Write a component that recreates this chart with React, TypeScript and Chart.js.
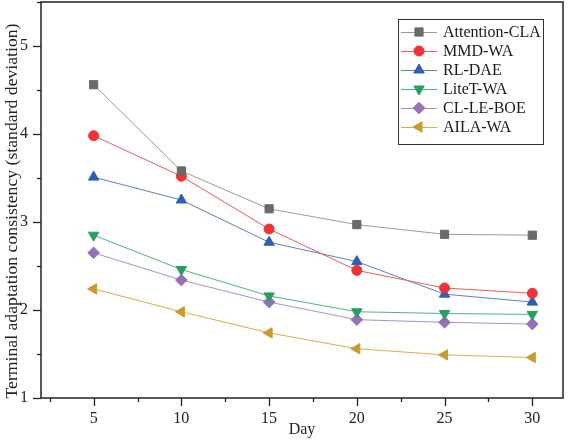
import React, { useEffect, useRef } from "react";
import { Chart, registerables } from "chart.js";

Chart.register(...registerables);

const days = [5, 10, 15, 20, 25, 30];
const attentionCLA = [4.56, 3.58, 3.15, 2.97, 2.86, 2.85];
const mmdWA = [3.98, 3.52, 2.92, 2.45, 2.25, 2.19];
const rlDAE = [3.51, 3.25, 2.77, 2.55, 2.18, 2.09];
const liteTWA = [2.85, 2.46, 2.16, 1.98, 1.96, 1.95];
const clLEBOE = [2.65, 2.34, 2.09, 1.89, 1.86, 1.84];
const ailaWA = [2.24, 1.98, 1.74, 1.56, 1.49, 1.46];

const xTicks = [5, 10, 15, 20, 25, 30];
const yTicks = [1, 2, 3, 4, 5];

const seriesNames = ["Attention-CLA", "MMD-WA", "RL-DAE", "LiteT-WA", "CL-LE-BOE", "AILA-WA"];
const seriesValues = [attentionCLA, mmdWA, rlDAE, liteTWA, clLEBOE, ailaWA];
const markerColors = ["#6a6a6a", "#ee3336", "#2e5fb2", "#2a9e63", "#9671b9", "#cc9a2a"];
const lineColors = ["#9a9a9a", "#f05a5c", "#5b7fc2", "#4fb283", "#a88fca", "#d8ae4e"];
const pointStyles = ["rect", "circle", "triangle", "triangle", "rectRot", "triangle"];
const rotations = [0, 0, 0, 180, 0, 270];
const radii = [5.8, 5, 6, 6, 5.8, 6];

const yTitle = "Terminal adaptation consistency (standard deviation)";
const xTitle = "Day";
const FONT = "'Liberation Serif', 'Times New Roman', serif";

function drawMarker(ctx: CanvasRenderingContext2D, style: string, rot: number, r: number, x: number, y: number) {
  ctx.save();
  ctx.translate(x, y);
  ctx.rotate((rot * Math.PI) / 180);
  ctx.beginPath();
  if (style === "rect") {
    const s = r * Math.SQRT1_2;
    ctx.rect(-s, -s, 2 * s, 2 * s);
  } else if (style === "circle") {
    ctx.arc(0, 0, r, 0, Math.PI * 2);
  } else if (style === "rectRot") {
    ctx.moveTo(0, -r);
    ctx.lineTo(r, 0);
    ctx.lineTo(0, r);
    ctx.lineTo(-r, 0);
    ctx.closePath();
  } else {
    const h = (r * 3) / Math.sqrt(3);
    const half = h / 2;
    ctx.moveTo(0, -r);
    ctx.lineTo(half, r / 2);
    ctx.lineTo(-half, r / 2);
    ctx.closePath();
  }
  ctx.fill();
  ctx.stroke();
  ctx.restore();
}

const decorPlugin = {
  id: "decor",
  afterDraw(chart: any) {
    const ctx = chart.ctx;
    const area = chart.chartArea;
    const xs = chart.scales.x;
    const ys = chart.scales.y;
    ctx.save();
    ctx.strokeStyle = "#222";
    ctx.lineWidth = 1.5;
    ctx.strokeRect(area.left, area.top, area.right - area.left, area.bottom - area.top);
    ctx.lineWidth = 1.3;
    for (let v = 1; v <= 5.5001; v += 0.5) {
      const py = Math.round(ys.getPixelForValue(v)) + 0.5;
      const major = Math.abs(v - Math.round(v)) < 1e-6;
      ctx.beginPath();
      ctx.moveTo(area.left - (major ? 8 : 4), py);
      ctx.lineTo(area.left, py);
      ctx.stroke();
    }
    for (let v = 2.5; v <= 30.001; v += 2.5) {
      const px = Math.round(xs.getPixelForValue(v)) + 0.5;
      const major = Math.abs(v / 5 - Math.round(v / 5)) < 1e-6;
      ctx.beginPath();
      ctx.moveTo(px, area.bottom);
      ctx.lineTo(px, area.bottom + (major ? 8 : 4));
      ctx.stroke();
    }
    ctx.fillStyle = "#222";
    ctx.textAlign = "center";
    ctx.textBaseline = "middle";
    ctx.font = `16px ${FONT}`;
    ctx.fillText(xTitle, (area.left + area.right) / 2, 430);
    ctx.save();
    ctx.translate(12, 211);
    ctx.rotate(-Math.PI / 2);
    ctx.font = `17.7px ${FONT}`;
    ctx.fillText(yTitle, 0, 0);
    ctx.restore();
    const lx = 398, ly = 19, lw = 145, lh = 125;
    ctx.fillStyle = "#fff";
    ctx.fillRect(lx, ly, lw, lh);
    ctx.strokeStyle = "#333";
    ctx.lineWidth = 1;
    ctx.strokeRect(lx + 0.5, ly + 0.5, lw, lh);
    ctx.textAlign = "left";
    ctx.font = `16px ${FONT}`;
    for (let i = 0; i < seriesNames.length; i++) {
      const cy = 32 + i * 19;
      ctx.strokeStyle = lineColors[i];
      ctx.lineWidth = 1;
      ctx.beginPath();
      ctx.moveTo(401, cy + 0.5);
      ctx.lineTo(437, cy + 0.5);
      ctx.stroke();
      ctx.fillStyle = markerColors[i];
      ctx.strokeStyle = markerColors[i];
      drawMarker(ctx, pointStyles[i], rotations[i], radii[i], 419, cy);
      ctx.fillStyle = "#1a1a1a";
      ctx.fillText(seriesNames[i], 443, cy + 1);
    }
    ctx.restore();
  },
};

export default function App() {
  const ref = useRef<HTMLCanvasElement | null>(null);
  useEffect(() => {
    document.body.style.margin = "0";
    const canvas = ref.current!;
    const chart = new Chart(canvas, {
      type: "line",
      data: {
        datasets: seriesNames.map((name, i) => ({
          label: name,
          data: days.map((d, j) => ({ x: d, y: seriesValues[i][j] })),
          borderColor: lineColors[i],
          backgroundColor: markerColors[i],
          pointBackgroundColor: markerColors[i],
          pointBorderColor: markerColors[i],
          pointStyle: pointStyles[i] as any,
          pointRotation: rotations[i],
          pointRadius: radii[i],
          pointBorderWidth: 1,
          borderWidth: 1,
          tension: 0,
        })),
      },
      options: {
        responsive: false,
        animation: false,
        layout: { autoPadding: false, padding: { top: 2, right: 6, left: 0, bottom: 0 } },
        plugins: { legend: { display: false }, tooltip: { enabled: false } },
        scales: {
          x: {
            type: "linear",
            min: 2,
            max: 31.75,
            grid: { display: false, drawTicks: false },
            border: { display: false },
            afterBuildTicks: (s: any) => { s.ticks = xTicks.map((v) => ({ value: v })); },
            afterFit: (s: any) => {
              s.height = 42;
              s.paddingLeft = 0; s.paddingRight = 0; s.paddingTop = 0; s.paddingBottom = 0;
            },
            ticks: {
              padding: 11,
              color: "#222",
              font: { family: FONT, size: 16 },
              maxRotation: 0,
              autoSkip: false,
            },
          },
          y: {
            type: "linear",
            min: 1,
            max: 5.5,
            grid: { display: false, drawTicks: false },
            border: { display: false },
            afterBuildTicks: (s: any) => { s.ticks = yTicks.map((v) => ({ value: v })); },
            afterFit: (s: any) => {
              s.width = 41;
              s.paddingTop = 0; s.paddingBottom = 0; s.paddingLeft = 0; s.paddingRight = 0;
            },
            ticks: {
              padding: 13,
              color: "#222",
              font: { family: FONT, size: 16 },
              autoSkip: false,
            },
          },
        },
      },
      plugins: [decorPlugin],
    });
    return () => chart.destroy();
  }, []);
  return (
    <div style={{ width: 569, height: 440, background: "#fff" }}>
      <canvas ref={ref} width={569} height={440} style={{ display: "block" }} />
    </div>
  );
}
